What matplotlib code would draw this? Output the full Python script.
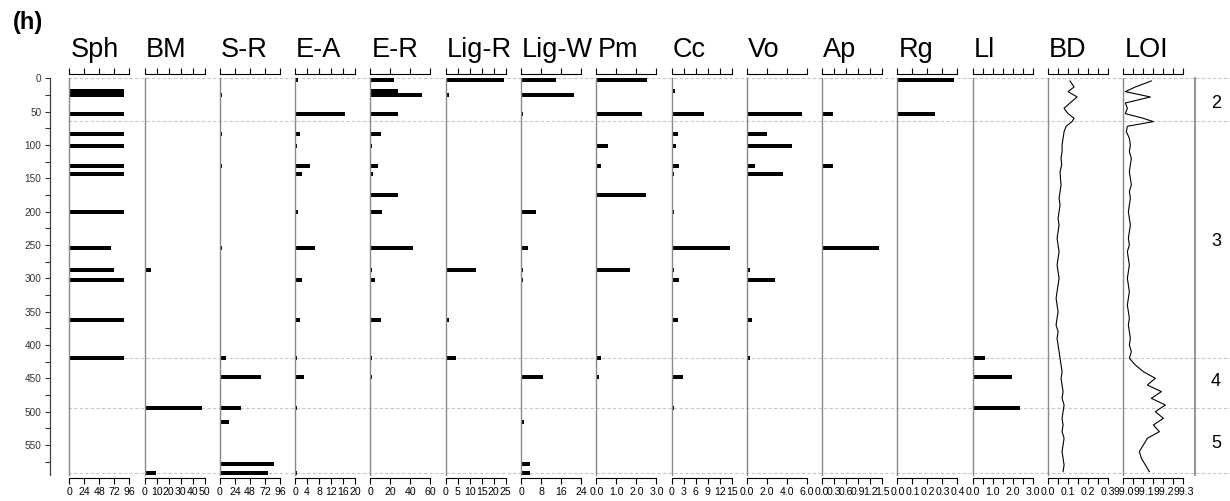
import matplotlib
matplotlib.use("Agg")
import matplotlib.pyplot as plt
from matplotlib.lines import Line2D
from matplotlib.transforms import blended_transform_factory

plt.rcParams['font.family'] = ['Liberation Sans', 'DejaVu Sans']

# ================= DATA =================

# sample depths (cm) for the bar panels
depths = [3, 19, 25, 53, 83, 102, 131, 143, 175, 200, 255, 287, 303, 362, 419, 448, 495, 515, 578, 592]

sph = [0, 88, 88, 88, 88, 88, 88, 88, 0, 88, 67, 72, 88, 88, 88, 0, 0, 0, 0, 0]
bm = [0, 0, 0, 0, 0, 0, 0, 0, 0, 0, 0, 5, 0, 0, 0, 1.5, 47.5, 0, 1.5, 9.5]
s_r = [0, 0, 3.8, 2, 3.8, 2, 3.8, 2, 2, 2, 3.8, 2, 2, 2, 9.3, 66, 33, 14.7, 86.7, 76.4]
e_a = [0.8, 0, 0, 16.7, 1.7, 0.6, 5.1, 2.3, 0, 0.9, 6.6, 0, 2.3, 1.7, 0.7, 3, 0.7, 0, 0, 0.7]
e_r = [24, 28, 52, 28, 10.3, 2, 7.3, 3, 28, 11.3, 43, 2, 5, 10.3, 2, 2, 0, 0, 0, 0]
lig_r = [24.3, 0, 1.25, 0.7, 0, 0, 0, 0, 0, 0, 0, 12.5, 0, 1.25, 4.2, 0, 0, 0, 0, 0]
lig_w = [13.8, 0, 21.2, 0.8, 0, 0, 0, 0, 0, 5.8, 2.9, 0.8, 0.8, 0, 0, 8.6, 0, 1.2, 3.7, 3.7]
pm = [2.53, 0, 0, 2.28, 0, 0.57, 0.25, 0, 2.48, 0, 0, 1.69, 0, 0, 0.24, 0.13, 0, 0, 0, 0]
cc = [0, 0.75, 0, 8.1, 1.5, 1.0, 1.75, 0.5, 0, 0.5, 14.7, 0.5, 1.75, 1.5, 0, 2.8, 0.5, 0, 0, 0]
vo = [0, 0, 0, 5.53, 1.97, 4.47, 0.8, 3.63, 0, 0, 0, 0.3, 2.8, 0.47, 0.27, 0, 0, 0, 0, 0]
ap = [0, 0, 0, 0.26, 0, 0, 0.27, 0, 0, 0, 1.43, 0, 0, 0, 0, 0, 0, 0, 0, 0]
rg = [0.375, 0, 0, 0.25, 0, 0, 0, 0, 0, 0, 0, 0, 0, 0, 0, 0, 0, 0, 0, 0]
ll = [0, 0, 0, 0, 0, 0, 0, 0, 0, 0, 0, 0, 0, 0, 0.6, 1.95, 2.35, 0, 0, 0]

# depths for the continuous curves
cont_depths = [4, 13, 20, 28, 37, 45, 53, 60, 65, 72, 80,
               90, 100, 110, 120, 130, 140, 150, 160, 170, 180, 190, 200, 210, 220, 230, 240, 250,
               260, 270, 280, 290, 300, 310, 320, 330, 340, 350, 360, 370, 380, 390, 400, 410,
               420, 430, 440, 450, 460, 470, 480, 490, 500, 510, 520, 530, 540, 550, 560, 570, 580, 590]

bd = [0.11, 0.13, 0.10, 0.145, 0.11, 0.08, 0.10, 0.13, 0.12, 0.09, 0.08,
      0.075, 0.07, 0.07, 0.065, 0.068, 0.06, 0.062, 0.065, 0.06, 0.055, 0.06, 0.055, 0.05,
      0.055, 0.05, 0.045, 0.05, 0.055, 0.05, 0.045, 0.05, 0.055, 0.05, 0.045, 0.04, 0.045,
      0.05, 0.045, 0.04, 0.05, 0.045, 0.05, 0.055,
      0.06, 0.065, 0.07, 0.065, 0.07, 0.075, 0.07, 0.08, 0.075, 0.07, 0.075, 0.07, 0.08,
      0.075, 0.07, 0.075, 0.08, 0.075]

loi = [99.14, 99.06, 99.01, 99.135, 99.01, 99.02, 99.01, 99.10, 99.15, 99.02, 99.015,
       99.03, 99.035, 99.03, 99.04, 99.035, 99.03, 99.035, 99.04, 99.03, 99.035, 99.03,
       99.025, 99.03, 99.035, 99.03, 99.025, 99.03, 99.02, 99.025, 99.03, 99.025, 99.02,
       99.025, 99.03, 99.025, 99.02, 99.025, 99.03, 99.025, 99.03, 99.035, 99.03, 99.04,
       99.03, 99.06, 99.10, 99.16, 99.12, 99.19, 99.14, 99.21, 99.16, 99.20, 99.15, 99.18,
       99.12, 99.10, 99.08, 99.09, 99.11, 99.13]

names = ["Sph", "BM", "S-R", "E-A", "E-R", "Lig-R", "Lig-W", "Pm", "Cc", "Vo", "Ap", "Rg", "Ll", "BD", "LOI"]
bar_series = [sph, bm, s_r, e_a, e_r, lig_r, lig_w, pm, cc, vo, ap, rg, ll]

x_limits = [(0, 96), (0, 50), (0, 96), (0, 20), (0, 60), (0, 25), (0, 24), (0, 3), (0, 15),
            (0, 6), (0, 1.5), (0, 0.4), (0, 3), (0, 0.3), (99.0, 99.3)]
x_ticks = [
    ([0, 24, 48, 72, 96], ["0", "24", "48", "72", "96"]),
    ([0, 10, 20, 30, 40, 50], ["0", "10", "20", "30", "40", "50"]),
    ([0, 24, 48, 72, 96], ["0", "24", "48", "72", "96"]),
    ([0, 4, 8, 12, 16, 20], ["0", "4", "8", "12", "16", "20"]),
    ([0, 20, 40, 60], ["0", "20", "40", "60"]),
    ([0, 5, 10, 15, 20, 25], ["0", "5", "10", "15", "20", "25"]),
    ([0, 8, 16, 24], ["0", "8", "16", "24"]),
    ([0, 1, 2, 3], ["0.0", "1.0", "2.0", "3.0"]),
    ([0, 3, 6, 9, 12, 15], ["0", "3", "6", "9", "12", "15"]),
    ([0, 2, 4, 6], ["0.0", "2.0", "4.0", "6.0"]),
    ([0, 0.3, 0.6, 0.9, 1.2, 1.5], ["0.0", "0.3", "0.6", "0.9", "1.2", "1.5"]),
    ([0, 0.1, 0.2, 0.3, 0.4], ["0.0", "0.1", "0.2", "0.3", "0.4"]),
    ([0, 0.5, 1, 1.5, 2, 2.5, 3], ["0.0", "", "1.0", "", "2.0", "", "3.0"]),
    ([0, 0.05, 0.1, 0.15, 0.2, 0.25, 0.3], ["0.0", "", "0.1", "", "0.2", "", "0.3"]),
    ([99.0, 99.05, 99.1, 99.15, 99.2, 99.25, 99.3], ["99.0", "", "99.1", "", "99.2", "", "99.3"]),
]

zone_bounds = [0, 64, 420, 495, 592]
zone_names = ["2", "3", "4", "5"]
zone_label_depths = [38, 245, 455, 548]

# ================= LAYOUT =================

W, H = 1230, 501
fig = plt.figure(figsize=(W / 100, H / 100), dpi=100)

top_px, bot_px = 78.3, 475.0
ax_bottom = 1 - bot_px / H
ax_height = (bot_px - top_px) / H
depth_max = 595

panel_left0 = 69.3
panel_step = 75.29
panel_width = 60.0

axes = []
for i, name in enumerate(names):
    left = (panel_left0 + i * panel_step) / W
    ax = fig.add_axes([left, ax_bottom, panel_width / W, ax_height])
    ax.patch.set_visible(False)
    ax.set_ylim(depth_max, 0)
    ax.set_xlim(*x_limits[i])

    if i < len(bar_series):
        vals = bar_series[i]
        d = [dep for dep, v in zip(depths, vals) if v > 0]
        v = [v for v in vals if v > 0]
        ax.barh(d, v, height=5.8, color="black", edgecolor="none", left=x_limits[i][0])
    elif name == "BD":
        ax.plot(bd, cont_depths, color="black", lw=0.8)
    else:
        ax.plot(loi, cont_depths, color="black", lw=0.8)

    ax.set_yticks([])
    ax.spines["right"].set_visible(False)
    ax.spines["left"].set_color("#8a8a8a")
    ax.spines["left"].set_linewidth(1.0)
    ax.spines["top"].set_position(("outward", 3))
    ax.spines["bottom"].set_position(("outward", 2.4))
    ax.spines["top"].set_linewidth(0.8)
    ax.spines["bottom"].set_linewidth(0.8)

    ticks, labels = x_ticks[i]
    ax.set_xticks(ticks)
    ax.set_xticklabels(labels)
    ax.tick_params(axis="x", top=True, bottom=True, labeltop=False, direction="out",
                   length=4.3, width=0.8, labelsize=7.6, pad=2.2, colors="black")

    fig.text(left + 1 / W, 1 - 57 / H, name, fontsize=19.5, ha="left", va="baseline")
    axes.append(ax)

# depth axis
dax = fig.add_axes([50 / W, ax_bottom, 0.001, ax_height])
dax.patch.set_visible(False)
dax.set_ylim(depth_max, 0)
dax.set_xticks([])
for s in ["top", "right", "bottom"]:
    dax.spines[s].set_visible(False)
dax.spines["left"].set_color("#404040")
dax.spines["left"].set_linewidth(0.9)
dax.set_yticks(range(0, 551, 50))
dax.set_yticks(range(25, 576, 50), minor=True)
dax.tick_params(axis="y", which="both", length=3.6, width=0.8, labelsize=7.2,
                colors="#333333", pad=2.5)

# zone axis on the right
zax = fig.add_axes([1195 / W, ax_bottom, 0.001, ax_height])
zax.patch.set_visible(False)
zax.set_ylim(depth_max, 0)
zax.set_xticks([])
zax.set_yticks([])
for s in ["top", "right", "bottom"]:
    zax.spines[s].set_visible(False)
zax.spines["left"].set_color("#8a8a8a")
zax.spines["left"].set_linewidth(1.3)

trans = blended_transform_factory(fig.transFigure, axes[0].transData)
for z, dep in zip(zone_names, zone_label_depths):
    fig.text(1216 / W, 0, z, fontsize=13, ha="center", va="center",
             transform=trans).set_y(dep)

# dashed zone boundaries
for b in zone_bounds:
    line = Line2D([68 / W, 1.0], [b, b], transform=trans, color="#c8c8c8",
                  lw=0.8, linestyle=(0, (3, 2)), zorder=-1)
    fig.add_artist(line)

fig.text(13 / W, 1 - 29 / H, "(h)", fontsize=17, fontweight="bold", ha="left", va="baseline")

fig.savefig("out.png", dpi=100)
